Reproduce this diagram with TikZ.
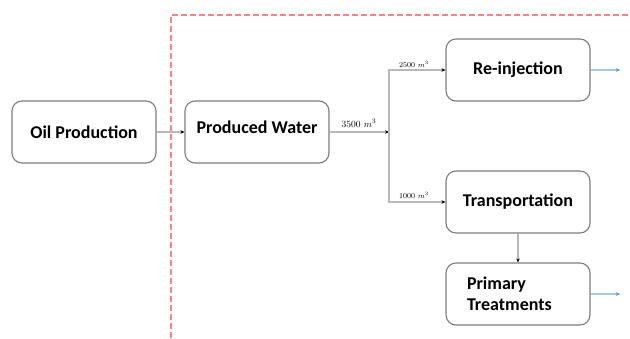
\documentclass[tikz,border=0pt]{standalone}
\usepackage{fontspec}
\newfontfamily\carlitofont{Carlito}
\usetikzlibrary{arrows.meta}
\definecolor{boxgray}{RGB}{125,125,125}
\definecolor{linegray}{RGB}{185,185,185}
\definecolor{frameRed}{RGB}{255,130,130}
\definecolor{lblue}{RGB}{165,200,235}
\definecolor{dblue}{RGB}{80,140,210}
\tikzset{
  procbox/.style={draw=boxgray, fill=white, line width=1.1pt, rounded corners=10pt, minimum width=144pt, minimum height=62pt, inner sep=0pt, font=\carlitofont\bfseries\fontsize{18}{21}\selectfont},
  flow/.style={draw=linegray, line width=1.1pt, -{Stealth[length=4pt,width=3.5pt,color=black]}},
  outflow/.style={draw=lblue, line width=1.1pt, -{Stealth[length=4pt,width=3.5pt,color=dblue]}},
  frameline/.style={draw=frameRed, line width=1.1pt, dash pattern=on 6pt off 3pt},
  qty/.style={inner sep=0pt, font=\fontsize{7.5}{9}\selectfont},
  qtybig/.style={inner sep=0pt, font=\fontsize{9.5}{11}\selectfont}
}
\begin{document}
\begin{tikzpicture}[x=1pt,y=-1pt]
\useasboundingbox (0,0) rectangle (630,338);
% red dashed frame
\coordinate (fb) at (171,338);
\coordinate (ft) at (171,15);
\coordinate (fr) at (630,15);
\draw[frameline] (fb) -- (ft) -- (fr);
% boxes
\node[procbox] (oil) at (84,132) {Oil Production};
\node[procbox, text depth=10pt] (pw) at (257,132) {Produced Water};
\node[procbox] (reinj) at (518,70) {Re-injection};
\node[procbox] (trans) at (518,202) {Transportation};
\node[procbox, align=left, text width=102pt, inner xsep=21pt] (prim) at (518,294) {Primary\\Treatments};
% connectors
\coordinate (j) at (389,132);
\draw[flow] (oil) -- (pw);
\draw[flow] (pw) -- (j);
\draw[flow] (j) |- (reinj.west);
\draw[flow] (j) |- (trans.west);
\draw[flow] (trans) -- (prim);
\coordinate (o1) at (620,70);
\coordinate (o2) at (620,294);
\draw[outflow] (reinj) -- (o1);
\draw[outflow] (prim) -- (o2);
% labels
\node[qtybig] (l1) at (359,123) {3500 $m^3$};
\node[qty] (l2) at (414,64) {2500 $m^3$};
\node[qty] (l3) at (414,195) {1000 $m^3$};
\end{tikzpicture}
\end{document}
